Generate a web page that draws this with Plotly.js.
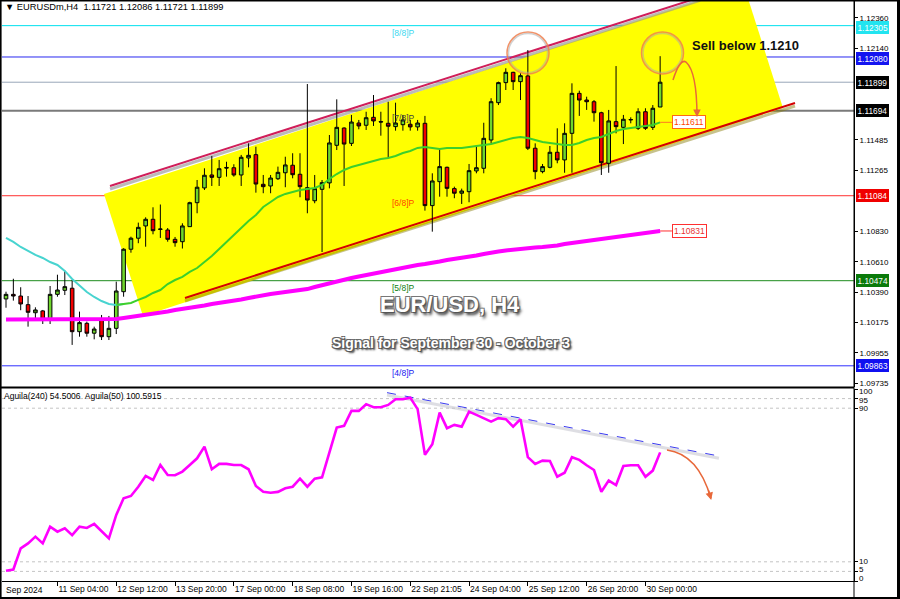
<!DOCTYPE html>
<html><head><meta charset="utf-8">
<script src="https://cdn.plot.ly/plotly-3.0.1.min.js"></script>
<style>html,body{margin:0;padding:0;background:#fff;}#chart{width:900px;height:599px;}</style>
</head><body><div id="chart"></div>
<script>
// ---------- DATA ----------
const openP = [1.10343,1.10376,1.10364,1.10302,1.10244,1.10257,1.10201,1.10376,1.10405,1.10420,
1.10108,1.10168,1.10097,1.10192,1.10072,1.10132,1.10395,1.10700,1.10779,1.10867,
1.10915,1.10842,1.10838,1.10771,1.10754,1.10862,1.11034,1.11140,1.11233,1.11216,
1.11287,1.11285,1.11233,1.11355,1.11379,1.11166,1.11154,1.11206,1.11249,1.11303,
1.11238,1.11142,1.11048,1.11130,1.11176,1.11446,1.11570,1.11460,1.11606,1.11590,
1.11647,1.11617,1.11604,1.11580,1.11594,1.11597,1.11578,1.11604,1.11013,1.11185,
1.11288,1.11135,1.11102,1.11113,1.11262,1.11281,1.11484,1.11752,1.11896,1.11970,
1.11903,1.11944,1.11425,1.11257,1.11288,1.11396,1.11341,1.11532,1.11819,1.11771,
1.11759,1.11680,1.11317,1.11616,1.11575,1.11628,1.11568,1.11687,1.11575,1.11721];
const highP = [1.10395,1.10488,1.10427,1.10364,1.10283,1.10264,1.10436,1.10517,1.10546,1.10479,
1.10252,1.10180,1.10144,1.10228,1.10221,1.10467,1.10707,1.10790,1.10891,1.10929,
1.11001,1.11021,1.10852,1.10788,1.10886,1.11041,1.11197,1.11281,1.11369,1.11341,
1.11328,1.11310,1.11377,1.11460,1.11436,1.11233,1.11233,1.11293,1.11364,1.11389,
1.11389,1.11886,1.11233,1.11197,1.11520,1.11776,1.11575,1.11664,1.11628,1.11687,
1.11807,1.11687,1.11759,1.11752,1.11664,1.11628,1.11628,1.11657,1.11245,1.11417,
1.11293,1.11149,1.11135,1.11312,1.11448,1.11608,1.11784,1.11903,1.11999,1.11974,
1.11963,1.12130,1.11460,1.11312,1.11441,1.11568,1.11604,1.11891,1.11838,1.11795,
1.11771,1.11687,1.11700,1.12015,1.11664,1.11647,1.11712,1.11712,1.11735,1.12086];
const lowP = [1.10280,1.10331,1.10262,1.10144,1.10197,1.10163,1.10163,1.10359,1.10371,1.10013,
1.10072,1.10072,1.10053,1.10048,1.10048,1.10091,1.10359,1.10675,1.10743,1.10718,
1.10807,1.10781,1.10754,1.10718,1.10705,1.10860,1.10958,1.11125,1.11154,1.11154,
1.11221,1.11221,1.11154,1.11288,1.11106,1.11102,1.11102,1.11197,1.11145,1.11209,
1.11073,1.10958,1.11030,1.10680,1.11137,1.11412,1.11154,1.11441,1.11561,1.11556,
1.11585,1.11515,1.11353,1.11551,1.11551,1.11551,1.11551,1.10977,1.10826,1.11077,
1.11077,1.11066,1.11025,1.11037,1.11245,1.11245,1.11460,1.11735,1.11843,1.11843,
1.11771,1.11412,1.11202,1.11245,1.11281,1.11317,1.11249,1.11249,1.11657,1.11700,
1.11616,1.11233,1.11249,1.11532,1.11455,1.11604,1.11556,1.11556,1.11556,1.11721];
const closeP = [1.10376,1.10364,1.10307,1.10247,1.10264,1.10197,1.10376,1.10407,1.10431,1.10108,
1.10173,1.10097,1.10127,1.10072,1.10132,1.10400,1.10700,1.10779,1.10857,1.10915,
1.10833,1.10845,1.10771,1.10747,1.10867,1.11034,1.11145,1.11231,1.11216,1.11278,
1.11283,1.11233,1.11360,1.11374,1.11168,1.11149,1.11211,1.11252,1.11305,1.11235,
1.11149,1.11053,1.11135,1.11178,1.11463,1.11575,1.11455,1.11613,1.11585,1.11644,
1.11621,1.11613,1.11583,1.11606,1.11628,1.11578,1.11606,1.11013,1.11190,1.11293,
1.11137,1.11102,1.11118,1.11264,1.11285,1.11496,1.11759,1.11896,1.11970,1.11903,
1.11946,1.11425,1.11257,1.11293,1.11396,1.11341,1.11532,1.11819,1.11771,1.11759,
1.11680,1.11321,1.11621,1.11580,1.11633,1.11631,1.11687,1.11568,1.11712,1.11899];
const maFast = [1.10781,1.10752,1.10716,1.10687,1.10659,1.10637,1.10608,1.10587,1.10544,1.10486,
1.10436,1.10393,1.10357,1.10328,1.10307,1.10300,1.10307,1.10314,1.10336,1.10357,
1.10386,1.10407,1.10450,1.10479,1.10501,1.10537,1.10565,1.10608,1.10651,1.10702,
1.10752,1.10809,1.10852,1.10903,1.10946,1.11003,1.11039,1.11075,1.11097,1.11111,
1.11125,1.11132,1.11140,1.11161,1.11204,1.11240,1.11269,1.11290,1.11305,1.11319,
1.11333,1.11348,1.11355,1.11369,1.11391,1.11405,1.11427,1.11434,1.11427,1.11420,
1.11427,1.11427,1.11427,1.11434,1.11441,1.11448,1.11455,1.11470,1.11484,1.11499,
1.11506,1.11499,1.11484,1.11470,1.11463,1.11455,1.11448,1.11448,1.11463,1.11484,
1.11499,1.11506,1.11527,1.11549,1.11563,1.11570,1.11578,1.11585,1.11592,1.11611];
const maSlow = [1.10196,1.10196,1.10196,1.10196,1.10196,1.10196,1.10196,1.10196,1.10196,1.10199,
1.10199,1.10199,1.10199,1.10199,1.10199,1.10199,1.10206,1.10213,1.10221,1.10228,
1.10235,1.10242,1.10253,1.10264,1.10271,1.10278,1.10285,1.10296,1.10307,1.10314,
1.10321,1.10332,1.10339,1.10350,1.10361,1.10368,1.10379,1.10386,1.10393,1.10397,
1.10400,1.10414,1.10429,1.10443,1.10458,1.10472,1.10483,1.10493,1.10504,1.10515,
1.10526,1.10537,1.10547,1.10558,1.10565,1.10576,1.10587,1.10594,1.10601,1.10612,
1.10623,1.10630,1.10637,1.10648,1.10655,1.10666,1.10677,1.10684,1.10691,1.10698,
1.10705,1.10709,1.10712,1.10716,1.10720,1.10727,1.10738,1.10745,1.10752,1.10759,
1.10766,1.10770,1.10777,1.10788,1.10795,1.10802,1.10809,1.10817,1.10824,1.10831];
const aguila = [5.3,6.0,17.0,19.6,23.1,19.6,28.3,25.7,27.4,23.9,
28.3,27.6,29.7,26.2,22.2,34.4,43.1,44.3,49.1,54.7,
52.6,60.4,55.2,55.1,57.0,60.4,63.9,70.0,58.2,61.0,
61.0,60.4,60.4,58.2,49.5,46.5,46.0,46.4,48.3,49.1,
53.3,49.1,53.3,54.0,67.4,79.9,80.8,88.6,88.6,92.1,
90.5,90.5,91.7,94.7,94.7,95.5,89.5,65.7,71.2,87.7,
79.6,81.3,80.4,88.2,86.5,84.6,83.0,84.8,84.3,80.4,
84.3,64.5,61.0,62.7,62.5,54.3,56.4,64.5,63.1,60.3,
57.8,46.5,52.3,50.0,59.9,60.3,60.3,54.3,57.5,67.0];
const xTickIdx = [7,15,23,31,39,47,55,63,71,79,87];
const xTickText = ["11 Sep 04:00","12 Sep 12:00","13 Sep 20:00","17 Sep 00:00","18 Sep 08:00","19 Sep 16:00","22 Sep 21:05","24 Sep 04:00","25 Sep 12:00","26 Sep 20:00","30 Sep 00:00"];
const yTickVals = [1.12360,1.12140,1.11485,1.11265,1.10830,1.10610,1.10390,1.10175,1.09955,1.09735];
const levelVals = [1.12305,1.12080,1.11899,1.11694,1.11084,1.10474,1.09863];
const levelNames = ["[8/8]P","","","[7/8]P","[6/8]P","[5/8]P","[4/8]P"];
const oscLevels = [0,5,10,90,95,100];
const oscLabels = ["0","5","10","90","95","100"];
const headerText = "\u25BC EURUSDm,H4  1.11721 1.12086 1.11721 1.11899";
const oscHeader = "Aguila(240) 54.5006  Aguila(50) 100.5915";
// trend-line drawings (bar index, price)
const upperLine = [[14.15,1.11154],[94.42,1.12509]];
const lowerLine = [[24.35,1.10350],[107.35,1.11750]];
const channelPoly = [[13.33,1.11096],[18.64,1.10221],[105.71,1.11714],[100.41,1.12590]];
const oscTrend = [[51.84,98.1],[97.0,65.1]];

// ---------- STYLE ----------
const levelStyle = [
  {c:'#00E0EE', w:1, box:'#22E4F0', lab:'#3CD8F0', dy:-1.5},
  {c:'#2828F0', w:1, box:'#1414F0', lab:'', dy:-1.5},
  {c:'#98A6B8', w:1, box:'#000000', lab:'', dy:0},
  {c:'#7A7A7A', w:2, box:'#000000', lab:'#404040', dy:0},
  {c:'#FF3030', w:1, box:'#F00000', lab:'#FF4500', dy:0},
  {c:'#1E8C1E', w:1, box:'#0A7A0A', lab:'#108010', dy:0},
  {c:'#3030FF', w:1, box:'#1010F0', lab:'#2020F0', dy:0}
];
const oscLabelPx = [578, 569.5, 561, 408.5, 400, 391.5]; // label pixel rows (MT4 clamps end labels)
const FONT = 'Liberation Sans, Arial, sans-serif';
const PX = 0.00007179; // price per pixel (main panel)
const bars = openP.map((_, i) => i);

const traces = [
  {type:'candlestick', x:bars, open:openP, high:highP, low:lowP, close:closeP,
   xaxis:'x', yaxis:'y', whiskerwidth:0, hoverinfo:'skip',
   increasing:{line:{color:'#000', width:1}, fillcolor:'#6FD62C'},
   decreasing:{line:{color:'#000', width:1}, fillcolor:'#F20000'}},
  {type:'scatter', mode:'lines', x:bars.slice(0,17), y:maFast.slice(0,17), xaxis:'x', yaxis:'y',
   line:{color:'#48D4D0', width:2}, hoverinfo:'skip'},
  {type:'scatter', mode:'lines', x:bars.slice(15), y:maFast.slice(15), xaxis:'x', yaxis:'y',
   line:{color:'#3CCF2C', width:2}, hoverinfo:'skip'},
  {type:'scatter', mode:'lines', x:bars, y:maSlow, xaxis:'x', yaxis:'y',
   line:{color:'#FF00FF', width:4}, hoverinfo:'skip'},
  {type:'scatter', mode:'lines', x:bars, y:aguila, xaxis:'x', yaxis:'y2',
   line:{color:'#FF00FF', width:2.6}, hoverinfo:'skip'}
];

const shapes = [];
const annotations = [];
const P = (py) => (581 - py) / 580;      // paper y from pixel
const PXx = (px) => (px - 2) / 852;      // paper x from pixel

// yellow channel
shapes.push({type:'path', xref:'x', yref:'y', layer:'below', line:{width:0}, fillcolor:'#FFFF00',
  path:'M' + channelPoly.map(p => p[0] + ',' + p[1]).join(' L') + ' Z'});
// horizontal levels
levelVals.forEach((v, i) => {
  shapes.push({type:'line', xref:'paper', yref:'y', x0:0, x1:1, y0:v, y1:v, layer:'below',
    line:{color:levelStyle[i].c, width:levelStyle[i].w}});
  annotations.push({xref:'paper', yref:'y', x:PXx(856), y:v, xanchor:'left', yanchor:'middle', yshift:levelStyle[i].dy,
    text:v.toFixed(5), showarrow:false, bgcolor:levelStyle[i].box, bordercolor:levelStyle[i].box,
    borderwidth:1, borderpad:0.5, font:{family:FONT, size:8.3, color:'#fff'}});
  if (levelNames[i]) {
    annotations.push({xref:'x', yref:'y', x:52.2, y:v, xanchor:'left', yanchor:'top', yshift:0,
      text:levelNames[i], showarrow:false, font:{family:FONT, size:8.5, color:levelStyle[i].lab}});
  }
});
// channel lines with shadows
shapes.push({type:'line', xref:'x', yref:'y', layer:'below',
  x0:upperLine[0][0], y0:upperLine[0][1]-3*PX, x1:upperLine[1][0], y1:upperLine[1][1]-3*PX,
  line:{color:'rgba(150,150,150,0.65)', width:3}});
shapes.push({type:'line', xref:'x', yref:'y', layer:'below',
  x0:upperLine[0][0], y0:upperLine[0][1], x1:upperLine[1][0], y1:upperLine[1][1],
  line:{color:'#D01E5A', width:2}});
shapes.push({type:'line', xref:'x', yref:'y', layer:'below',
  x0:lowerLine[0][0], y0:lowerLine[0][1]-3*PX, x1:lowerLine[1][0], y1:lowerLine[1][1]-3*PX,
  line:{color:'rgba(130,120,0,0.45)', width:3}});
shapes.push({type:'line', xref:'x', yref:'y', layer:'below',
  x0:lowerLine[0][0], y0:lowerLine[0][1], x1:lowerLine[1][0], y1:lowerLine[1][1],
  line:{color:'#D40000', width:2}});
// oscillator level dotted lines
oscLevels.slice(1,5).forEach(v => shapes.push({type:'line', xref:'paper', yref:'y2', x0:0, x1:1, y0:v, y1:v,
  layer:'below', line:{color:'#C4C4C4', width:1, dash:'dot'}}));
// oscillator labels
oscLevels.forEach((v, i) => annotations.push({xref:'paper', yref:'paper', x:PXx(857), y:P(oscLabelPx[i]),
  xanchor:'left', yanchor:'middle', showarrow:false, text:oscLabels[i], font:{family:FONT, size:8, color:'#000'}}));
// oscillator trend line
shapes.push({type:'line', xref:'x', yref:'y2', layer:'below',
  x0:oscTrend[0][0], y0:oscTrend[0][1]-1.2, x1:oscTrend[1][0], y1:oscTrend[1][1]-1.2,
  line:{color:'rgba(190,190,200,0.5)', width:3}});
shapes.push({type:'line', xref:'x', yref:'y2', layer:'below',
  x0:oscTrend[0][0], y0:oscTrend[0][1], x1:oscTrend[1][0], y1:oscTrend[1][1],
  line:{color:'#3A3AF0', width:1, dash:'dash'}});
// price label connectors
shapes.push({type:'line', xref:'x', yref:'y', x0:89, x1:90.6, y0:maFast[89], y1:maFast[89], line:{color:'#FF7A20', width:1}});
shapes.push({type:'line', xref:'x', yref:'y', x0:89, x1:90.6, y0:maSlow[89], y1:maSlow[89], line:{color:'#FF3030', width:1}});
annotations.push({xref:'x', yref:'y', x:90.6, y:maFast[89], xanchor:'left', yanchor:'middle', showarrow:false,
  text:maFast[89].toFixed(5), bgcolor:'#fff', bordercolor:'#FF6A10', borderwidth:1, borderpad:1,
  font:{family:FONT, size:8.5, color:'#FF4500'}});
annotations.push({xref:'x', yref:'y', x:90.6, y:maSlow[89], xanchor:'left', yanchor:'middle', showarrow:false,
  text:maSlow[89].toFixed(5), bgcolor:'#fff', bordercolor:'#FF3030', borderwidth:1, borderpad:1,
  font:{family:FONT, size:8.5, color:'#E83030'}});
// circles
[[71.02,1.12109],[89.32,1.12109]].forEach(c => {
  shapes.push({type:'circle', xref:'x', yref:'y', xsizemode:'pixel', ysizemode:'pixel', xanchor:c[0], yanchor:c[1],
    x0:-19.5, x1:19.5, y0:-19.5, y1:19.5, line:{color:'rgba(170,170,170,0.55)', width:1.5}});
  shapes.push({type:'circle', xref:'x', yref:'y', xsizemode:'pixel', ysizemode:'pixel', xanchor:c[0], yanchor:c[1],
    x0:-21, x1:21, y0:-21, y1:21, line:{color:'rgba(238,128,80,0.85)', width:1.5}});
});
// curved arrows
shapes.push({type:'path', xref:'x', yref:'y', line:{color:'#E8683A', width:1.5},
  path:'M90.75,1.11915 Q91.70,1.12073 92.52,1.12044 Q94.01,1.11972 94.01,1.11655'});
annotations.push({xref:'x', yref:'y', x:94.01, y:1.11649, ax:0, ay:-9, showarrow:true, text:'',
  arrowhead:2, arrowsize:1, arrowwidth:1.5, arrowcolor:'#E8683A'});
shapes.push({type:'path', xref:'x', yref:'y2', line:{color:'#E8683A', width:1.5},
  path:'M89.93,68.2 Q94.2,66.0 95.9,43.0'});
annotations.push({xref:'x', yref:'y2', x:95.95, y:42.2, ax:-3, ay:-11, showarrow:true, text:'',
  arrowhead:2, arrowsize:1, arrowwidth:1.5, arrowcolor:'#E8683A'});
// frame
const fr = (x0,x1,y0,y1) => shapes.push({type:'rect', xref:'paper', yref:'paper', x0, x1, y0, y1,
  fillcolor:'#000', line:{width:0}, layer:'above'});
fr(PXx(0), PXx(1.6), P(599), P(0));
fr(PXx(897), PXx(900), P(599), P(0));
fr(PXx(0), PXx(900), P(1.5), P(0));
fr(PXx(0), PXx(900), P(599), P(597));
fr(PXx(0), 1, P(388.6), P(386.4));
shapes.push({type:'line', xref:'paper', yref:'paper', x0:1, x1:1, y0:P(597), y1:P(0), line:{color:'#000', width:1}, layer:'above'});

// texts
annotations.push({xref:'paper', yref:'paper', x:PXx(3), y:P(7), xanchor:'left', yanchor:'middle', showarrow:false,
  text:headerText, font:{family:FONT, size:9.3, color:'#000'}});
annotations.push({xref:'paper', yref:'paper', x:PXx(2), y:P(396), xanchor:'left', yanchor:'middle', showarrow:false,
  text:oscHeader, font:{family:FONT, size:8.5, color:'#000'}});
annotations.push({xref:'paper', yref:'paper', x:PXx(4), y:P(590), xanchor:'left', yanchor:'middle', showarrow:false,
  text:'Sep 2024', font:{family:FONT, size:8.5, color:'#000'}});
annotations.push({xref:'paper', yref:'paper', x:PXx(745), y:P(46), xanchor:'center', yanchor:'middle', showarrow:false,
  text:'Sell below 1.1210', font:{family:FONT, size:13, color:'#111', weight:'bold'}});
annotations.push({xref:'paper', yref:'paper', x:PXx(450), y:P(305), xanchor:'center', yanchor:'middle', showarrow:false,
  text:'EUR/USD, H4', font:{family:FONT, size:22, color:'#fff', weight:'bold',
  shadow:'1px 1px 0 #555, -1px -1px 0 #777, 1px -1px 0 #777, -1px 1px 0 #777, 2px 3px 3px #333'}});
annotations.push({xref:'paper', yref:'paper', x:PXx(451), y:P(343), xanchor:'center', yanchor:'middle', showarrow:false,
  text:'Signal for September 30 - October 3', font:{family:FONT, size:14, color:'#fff', weight:'bold',
  shadow:'1px 1px 0 #555, -1px -1px 0 #666, 1px -1px 0 #666, -1px 1px 0 #666, 2px 2px 2px #333'}});

const layout = {
  width:900, height:599,
  margin:{l:2, r:46, t:1, b:18, pad:0},
  paper_bgcolor:'#fff', plot_bgcolor:'rgba(0,0,0,0)',
  showlegend:false,
  font:{family:FONT, size:8.5, color:'#000'},
  xaxis:{range:[-0.5442,115.374], anchor:'y2', showgrid:false, zeroline:false, showline:true,
    linecolor:'#000', linewidth:1, ticks:'outside', ticklen:4, tickcolor:'#000', tickangle:0,
    tickvals:xTickIdx, ticktext:xTickText, ticklabelposition:'outside right',
    rangeslider:{visible:false}, tickfont:{family:FONT, size:8.5, color:'#000'}, fixedrange:true},
  yaxis:{domain:[0.33448,1], range:[1.097108,1.124820], side:'right', showgrid:false, zeroline:false,
    showline:true, linecolor:'#000', linewidth:1, ticks:'outside', ticklen:3, tickcolor:'#000',
    tickvals:yTickVals, ticktext:yTickVals.map(v => v.toFixed(5)),
    tickfont:{family:FONT, size:8, color:'#000'}, fixedrange:true},
  yaxis2:{domain:[0,0.33103], range:[0,100], side:'right', showgrid:false, zeroline:false,
    showline:true, linecolor:'#000', linewidth:1, ticks:'outside', ticklen:3, tickcolor:'#000',
    tickvals:oscLevels, showticklabels:false, fixedrange:true},
  shapes, annotations
};
Plotly.newPlot('chart', traces, layout, {staticPlot:true, displayModeBar:false});
</script></body></html>
